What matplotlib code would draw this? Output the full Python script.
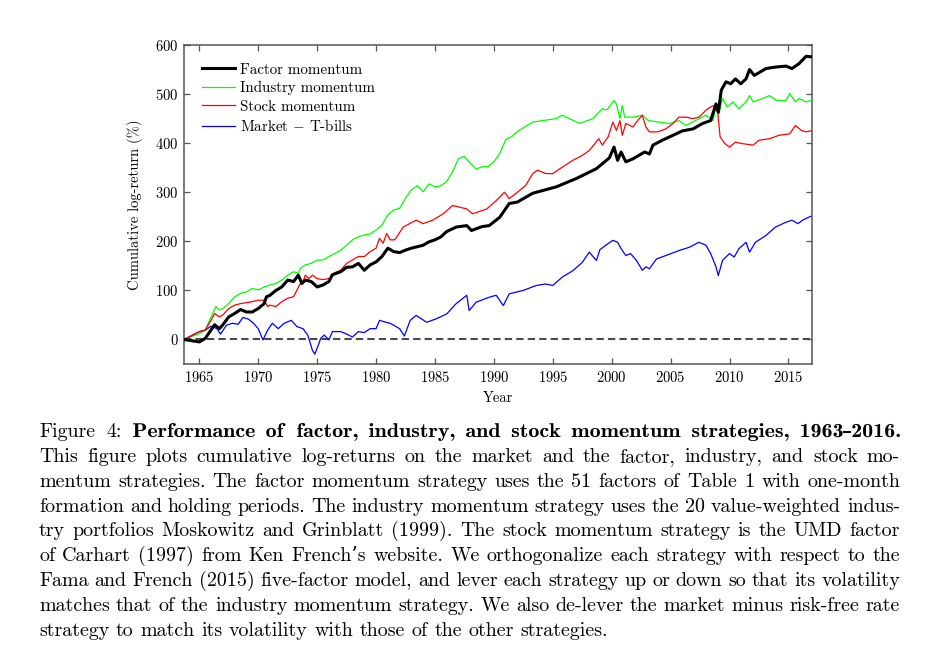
import matplotlib
matplotlib.use("Agg")
import matplotlib.pyplot as plt
from matplotlib.textpath import TextPath
from matplotlib.patches import PathPatch
from matplotlib.font_manager import FontProperties
from matplotlib.transforms import Affine2D

plt.rcParams['font.family'] = ['cmr10', 'DejaVu Serif']
plt.rcParams['mathtext.fontset'] = 'cm'
plt.rcParams['axes.formatter.use_mathtext'] = True

# values (cumulative log-return, %)
f_year = [1963.7, 1965.0, 1965.5, 1966.3, 1966.7, 1967.0, 1967.5, 1968.0, 1968.5, 1969.0,
          1969.5, 1970.0, 1970.5, 1970.7, 1971.0, 1971.5, 1972.0, 1972.5, 1973.0, 1973.4,
          1973.7, 1974.0, 1974.5, 1975.0, 1975.5, 1976.0, 1976.3, 1977.0, 1977.5, 1978.0,
          1978.5, 1979.0, 1979.5, 1980.0, 1980.5, 1981.0, 1981.5, 1982.0, 1982.5, 1983.0,
          1983.5, 1984.0, 1984.5, 1985.0, 1985.5, 1986.0, 1986.8, 1987.7, 1988.1, 1989.0,
          1989.6, 1990.5, 1991.3, 1992.0, 1993.3, 1995.3, 1997.0, 1998.7, 1999.8, 2000.2,
          2000.5, 2000.8, 2001.2, 2001.8, 2002.3, 2002.8, 2003.2, 2003.5, 2004.3, 2005.2,
          2006.0, 2006.9, 2007.7, 2008.4, 2008.85, 2009.05, 2009.3, 2009.7, 2010.1, 2010.5,
          2010.95, 2011.4, 2011.7, 2012.1, 2013.1, 2013.9, 2014.8, 2015.3, 2015.9, 2016.5,
          2016.9]
factor = [0, -5, 2, 30, 22, 30, 46, 53, 61, 56,
          56, 63, 73, 87, 90, 100, 107, 121, 118, 131,
          114, 121, 118, 107, 111, 118, 132, 138, 147, 148,
          155, 141, 152, 158, 169, 186, 179, 177, 182, 186,
          189, 192, 199, 203, 209, 220, 229, 232, 222, 230,
          232, 249, 277, 280, 298, 311, 328, 348, 370, 392,
          365, 382, 362, 368, 375, 382, 378, 396, 406, 416,
          425, 429, 440, 446, 480, 463, 508, 525, 521, 531,
          521, 531, 550, 538, 552, 555, 557, 552, 562, 577,
          576]

i_year = [1963.7, 1965.0, 1965.5, 1966.0, 1966.4, 1966.7, 1967.0, 1967.5, 1968.0, 1968.5,
          1969.0, 1969.5, 1970.0, 1970.5, 1971.0, 1971.5, 1972.0, 1972.5, 1973.0, 1973.4,
          1973.6, 1974.0, 1974.5, 1975.0, 1975.5, 1976.0, 1976.5, 1977.0, 1977.5, 1978.0,
          1978.5, 1979.0, 1979.5, 1980.0, 1980.5, 1981.0, 1981.5, 1982.0, 1982.5, 1983.0,
          1983.5, 1984.0, 1984.5, 1985.0, 1985.5, 1986.0, 1986.5, 1987.0, 1987.5, 1988.0,
          1988.5, 1989.0, 1989.5, 1990.0, 1990.5, 1991.0, 1991.5, 1992.0, 1993.3, 1995.3,
          1995.8, 1997.3, 1998.4, 1999.2, 1999.6, 2000.2, 2000.4, 2000.7, 2000.9, 2001.1,
          2001.8, 2002.6, 2003.1, 2004.0, 2004.9, 2005.7, 2006.3, 2007.1, 2008.0, 2008.6,
          2008.8, 2009.1, 2009.4, 2009.8, 2010.3, 2010.8, 2011.4, 2011.7, 2012.0, 2012.8,
          2013.4, 2014.0, 2014.8, 2015.1, 2015.6, 2015.9, 2016.5, 2016.9]
industry = [0, 12, 19, 46, 67, 60, 63, 73, 87, 94,
            97, 104, 101, 107, 111, 114, 121, 131, 138, 135,
            145, 152, 155, 162, 162, 169, 175, 182, 192, 203,
            209, 213, 215, 223, 233, 254, 264, 267, 288, 305,
            313, 301, 317, 311, 313, 322, 342, 369, 373, 359,
            347, 352, 352, 362, 379, 407, 413, 424, 443, 450,
            457, 440, 450, 470, 468, 487, 480, 450, 477, 453,
            453, 457, 446, 443, 440, 446, 436, 446, 457, 446,
            470, 460, 491, 474, 484, 470, 484, 497, 484, 491,
            497, 487, 487, 501, 484, 491, 484, 487]

s_year = [1963.7, 1965.0, 1965.5, 1966.0, 1966.3, 1966.7, 1967.0, 1967.5, 1968.0, 1968.5,
          1969.0, 1969.5, 1970.0, 1970.5, 1970.8, 1971.0, 1971.5, 1972.0, 1972.5, 1973.0,
          1973.5, 1973.8, 1974.0, 1974.3, 1974.6, 1975.0, 1975.5, 1976.0, 1976.5, 1977.0,
          1977.5, 1978.0, 1978.5, 1979.0, 1979.5, 1980.0, 1980.3, 1980.6, 1980.9, 1981.2,
          1981.6, 1982.3, 1983.4, 1984.0, 1984.8, 1985.7, 1986.5, 1987.7, 1988.2, 1989.4,
          1990.2, 1990.9, 1991.3, 1992.0, 1992.7, 1993.3, 1993.7, 1994.4, 1995.0, 1995.8,
          1996.7, 1997.5, 1998.1, 1998.9, 1999.2, 1999.7, 2000.1, 2000.4, 2000.7, 2000.9,
          2001.2, 2001.8, 2002.2, 2002.6, 2002.9, 2003.2, 2003.9, 2004.6, 2005.2, 2005.7,
          2006.3, 2006.9, 2007.4, 2008.0, 2008.4, 2008.7, 2009.0, 2009.2, 2009.6, 2010.0,
          2010.5, 2011.1, 2012.0, 2012.5, 2013.4, 2014.2, 2015.1, 2015.6, 2016.1, 2016.5,
          2016.9]
stock = [0, 16, 19, 39, 53, 46, 50, 63, 70, 73,
         75, 77, 80, 80, 67, 70, 67, 77, 84, 87,
         111, 118, 131, 124, 131, 124, 122, 124, 136, 141,
         155, 162, 169, 169, 179, 186, 206, 196, 216, 203,
         203, 229, 243, 236, 243, 256, 273, 266, 256, 266,
         283, 300, 287, 300, 314, 338, 345, 338, 338, 351,
         365, 375, 385, 409, 396, 413, 443, 426, 446, 416,
         440, 433, 446, 457, 433, 423, 423, 429, 440, 453,
         453, 450, 453, 467, 474, 477, 463, 413, 399, 392,
         402, 399, 396, 406, 409, 416, 419, 436, 426, 423,
         425]

m_year = [1963.7, 1965.0, 1965.5, 1966.0, 1966.5, 1966.8, 1967.3, 1967.8, 1968.3, 1968.7,
          1969.2, 1969.6, 1970.0, 1970.4, 1970.8, 1971.2, 1971.7, 1972.2, 1972.8, 1973.3,
          1973.8, 1974.2, 1974.6, 1974.8, 1975.0, 1975.3, 1975.6, 1976.0, 1976.3, 1977.0,
          1977.5, 1978.0, 1978.5, 1979.0, 1979.5, 1980.0, 1980.3, 1980.7, 1981.2, 1982.0,
          1982.4, 1982.9, 1983.4, 1984.3, 1985.1, 1986.0, 1986.8, 1987.7, 1987.9, 1988.5,
          1989.6, 1990.2, 1990.8, 1991.3, 1992.5, 1993.6, 1994.4, 1995.0, 1995.8, 1996.7,
          1997.5, 1998.1, 1998.7, 1999.0, 1999.5, 2000.1, 2000.5, 2000.8, 2001.2, 2001.6,
          2002.1, 2002.6, 2002.9, 2003.2, 2003.8, 2004.6, 2005.7, 2006.6, 2007.4, 2008.0,
          2008.4, 2008.85, 2009.05, 2009.4, 2010.0, 2010.4, 2010.8, 2011.4, 2011.7, 2012.2,
          2013.1, 2013.9, 2014.8, 2015.3, 2015.8, 2016.2, 2016.9]
market = [0, 16, 19, 27, 22, 11, 29, 33, 31, 45,
          41, 33, 22, -1, 19, 33, 22, 33, 39, 26,
          22, 9, -22, -30, -18, 2, 9, -1, 16, 16,
          11, 5, 16, 14, 22, 22, 39, 36, 33, 22,
          7, 39, 49, 35, 42, 52, 73, 90, 59, 76,
          86, 90, 69, 93, 100, 110, 113, 110, 127, 140,
          157, 178, 161, 183, 192, 202, 198, 185, 171, 175,
          161, 141, 148, 144, 164, 171, 181, 188, 198, 192,
          175, 148, 130, 161, 175, 168, 185, 198, 178, 198,
          212, 229, 239, 243, 236, 243, 251]

labels = ['Factor momentum', 'Industry momentum', 'Stock momentum', 'Market $-$ T-bills']

caption = [
    "This figure plots cumulative log-returns on the market and the factor, industry, and stock mo-",
    "mentum strategies. The factor momentum strategy uses the 51 factors of Table 1 with one-month",
    "formation and holding periods. The industry momentum strategy uses the 20 value-weighted indus-",
    "try portfolios Moskowitz and Grinblatt (1999). The stock momentum strategy is the UMD factor",
    "of Carhart (1997) from Ken French\u2019s website. We orthogonalize each strategy with respect to the",
    "Fama and French (2015) five-factor model, and lever each strategy up or down so that its volatility",
    "matches that of the industry momentum strategy. We also de-lever the market minus risk-free rate",
    "strategy to match its volatility with those of the other strategies.",
]
title_normal = "Figure 4:"
title_bold = "Performance of factor, industry, and stock momentum strategies, 1963\u20132016."

W, H = 930, 649
fig = plt.figure(figsize=(W / 100, H / 100), dpi=100)
ax = fig.add_axes([184 / W, 1 - 364 / H, (812 - 184) / W, (364 - 45) / H])

ax.plot(f_year, factor, color='black', lw=2.2, label=labels[0], zorder=5)
ax.plot(i_year, industry, color=(0, 1, 0), lw=0.9, label=labels[1], zorder=3)
ax.plot(s_year, stock, color=(1, 0, 0), lw=0.9, label=labels[2], zorder=4)
ax.plot(m_year, market, color=(0, 0, 1), lw=0.9, label=labels[3], zorder=3)
ax.axhline(0, color='#4a4a4a', lw=1.5, linestyle=(0, (3.5, 2)), zorder=2)

ax.set_xlim(1963.7, 2017.0)
ax.set_ylim(-50, 600)
ax.set_xticks(range(1965, 2016, 5))
ax.set_yticks(range(0, 601, 100))
ax.tick_params(direction='in', top=True, right=True, length=4, width=0.9,
               color='#555555', labelsize=10.5, pad=4)
for s in ax.spines.values():
    s.set_color('#555555')
    s.set_linewidth(1.1)
ax.set_xlabel('Year', fontsize=10.5, labelpad=5)
ax.set_ylabel('Cumulative log-return (%)', fontsize=10.5, labelpad=9)

ax.legend(loc='upper left', frameon=False, fontsize=10.8, handlelength=2.2,
          handletextpad=0.33, labelspacing=0.3, borderaxespad=0.8)

# caption, justified word by word
fs = 14.4
fs_px = fs * 100 / 72
left, right = 39, 900
base0, step = 437, 24.85
renderer = fig.canvas.get_renderer()
bold_prop = FontProperties(family='cmb10')
dash_prop = FontProperties(family='DejaVu Serif', weight='bold')
bold_stretch = 1.1


class Word:
    # bold words are drawn as horizontally stretched paths, like a bold extended face
    def __init__(self, s, bold):
        self.bold = bold
        if bold:
            self.parts = []
            x = 0
            for k, seg in enumerate(s.split('\u2013')):
                if k > 0:
                    p = TextPath((0, 0), '\u2013', size=fs_px * 0.9, prop=dash_prop)
                    e = p.get_extents()
                    self.parts.append((p, x - e.x0 + 0.5))
                    x += e.width + 1.5
                p = TextPath((0, 0), seg, size=fs_px, prop=bold_prop)
                self.parts.append((p, x))
                x += p.get_extents().x1 * bold_stretch
            self.width = x
        else:
            self.t = fig.text(0, 0, s, fontsize=fs, va='baseline', ha='left')
            self.width = self.t.get_window_extent(renderer).width

    def place(self, x, y):
        if self.bold:
            for p, dx in self.parts:
                tr = Affine2D().scale(bold_stretch, 1).translate(x + dx, H - y)
                fig.add_artist(PathPatch(p, transform=tr, facecolor='black', edgecolor='none'))
        else:
            self.t.set_position((x / W, 1 - y / H))


def place_line(words, y, justify=True):
    objs = [Word(w, b) for w, b in words]
    widths = [o.width for o in objs]
    if justify and len(objs) > 1:
        gap = (right - left - sum(widths)) / (len(objs) - 1)
    else:
        gap = fs_px * 0.333
    x = left
    for o, wd in zip(objs, widths):
        o.place(x, y)
        x += wd + gap


first = [(w, False) for w in title_normal.split()] + [(w, True) for w in title_bold.split()]
place_line(first, base0)
for i, line in enumerate(caption):
    place_line([(w, False) for w in line.split()], base0 + step * (i + 1),
               justify=(i < len(caption) - 1))

fig.savefig('out.png', dpi=100)
